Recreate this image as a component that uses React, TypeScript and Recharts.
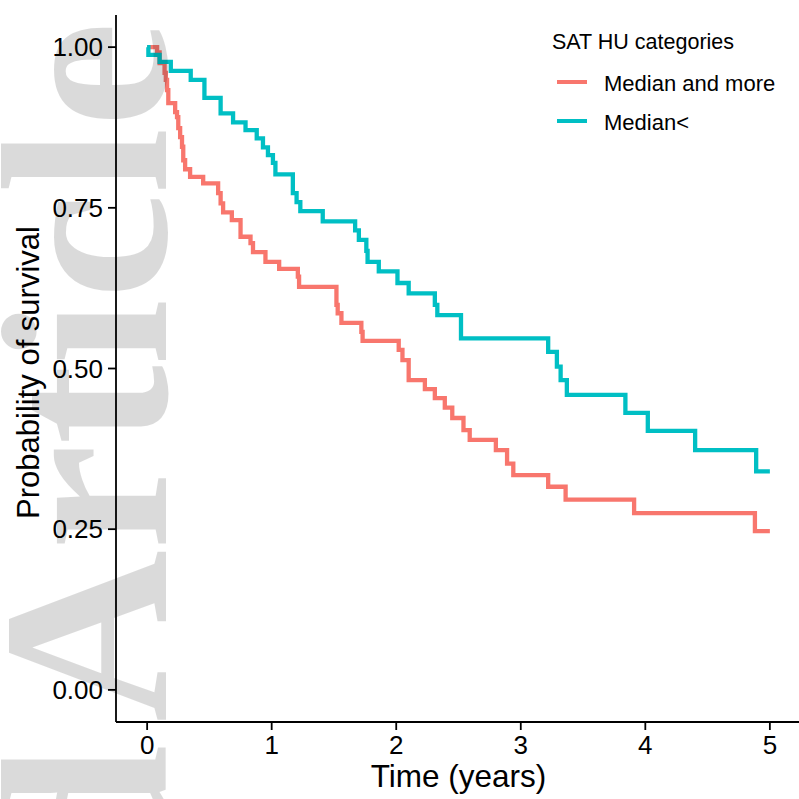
import React from "react";
import { LineChart, Line, XAxis, YAxis, Legend } from "recharts";

// Kaplan-Meier steps (time in years, survival probability)
const redTimes = [0, 0.08, 0.1, 0.14, 0.15, 0.16, 0.17, 0.225, 0.24, 0.25, 0.265, 0.28, 0.29, 0.305, 0.345, 0.45, 0.57, 0.59, 0.61, 0.68, 0.75, 0.83, 0.85, 0.95, 1.06, 1.21, 1.22, 1.52, 1.53, 1.56, 1.72, 1.73, 2.02, 2.05, 2.1, 2.23, 2.31, 2.39, 2.45, 2.54, 2.59, 2.8, 2.89, 2.94, 3.22, 3.36, 3.91, 4.88, 5.0];
const redSurv = [1.0, 0.992, 0.975, 0.96, 0.949, 0.933, 0.913, 0.899, 0.891, 0.874, 0.86, 0.845, 0.824, 0.81, 0.798, 0.788, 0.773, 0.757, 0.743, 0.731, 0.705, 0.695, 0.681, 0.666, 0.655, 0.643, 0.627, 0.599, 0.586, 0.571, 0.557, 0.543, 0.529, 0.513, 0.482, 0.468, 0.454, 0.439, 0.423, 0.404, 0.389, 0.373, 0.352, 0.334, 0.316, 0.296, 0.275, 0.247, 0.247];

const tealTimes = [0, 0.01, 0.1, 0.19, 0.35, 0.46, 0.59, 0.69, 0.79, 0.88, 0.93, 0.97, 1.01, 1.03, 1.17, 1.2, 1.23, 1.41, 1.67, 1.7, 1.76, 1.77, 1.86, 2.01, 2.1, 2.31, 2.33, 2.52, 3.22, 3.29, 3.32, 3.37, 3.84, 4.02, 4.4, 4.89, 5.0];
const tealSurv = [1.0, 0.988, 0.977, 0.963, 0.949, 0.921, 0.897, 0.883, 0.871, 0.858, 0.844, 0.832, 0.82, 0.802, 0.773, 0.759, 0.745, 0.729, 0.715, 0.7, 0.683, 0.666, 0.651, 0.633, 0.617, 0.599, 0.583, 0.547, 0.526, 0.503, 0.482, 0.459, 0.431, 0.403, 0.373, 0.34, 0.34];

const xTicks = [0, 1, 2, 3, 4, 5];
const yTicks = [0, 0.25, 0.5, 0.75, 1];

const seriesNames = ["Median and more", "Median<"];
const seriesColors = ["#F8766D", "#00BFC4"];

const redData = redTimes.map((t, i) => ({ t, s: redSurv[i] }));
const tealData = tealTimes.map((t, i) => ({ t, s: tealSurv[i] }));

const sans = "'Liberation Sans', Arial, sans-serif";

const XTitle = (props: any) => {
    const vb = props.viewBox;
    return (
        <text x={vb.x + vb.width / 2} y={787} textAnchor="middle" fontFamily={sans} fontSize={31.5} fill="#000">
            Time (years)
        </text>
    );
};

const YTitle = (props: any) => {
    const vb = props.viewBox;
    const cy = vb.y + vb.height / 2 + 4;
    return (
        <text x={39} y={cy} transform={`rotate(-90, 39, ${cy})`} textAnchor="middle" fontFamily={sans} fontSize={31} fill="#000">
            Probability of survival
        </text>
    );
};

const renderLegend = () => (
    <svg width={250} height={130} style={{ display: "block" }}>
        <text x={4} y={28.6} fontFamily={sans} fontSize={21.5} fill="#000">SAT HU categories</text>
        {seriesNames.map((name, i) => (
            <g key={name}>
                <line x1={9} x2={39} y1={62 + i * 39} y2={62 + i * 39} stroke={seriesColors[i]} strokeWidth={4} />
                <text x={56} y={71.4 + i * 39} fontFamily={sans} fontSize={22} fill="#000">{name}</text>
            </g>
        ))}
    </svg>
);

export default function App() {
    return (
        <div style={{ position: "absolute", left: 0, top: 0, width: 799, height: 799, overflow: "hidden", background: "#fff" }}>
            <LineChart width={801} height={799} margin={{ top: 15, right: 0, bottom: 0, left: 0 }}>
                <XAxis
                    type="number"
                    dataKey="t"
                    domain={[-0.25, 5.25]}
                    ticks={xTicks}
                    allowDataOverflow
                    height={77}
                    tickSize={8}
                    tickMargin={6}
                    axisLine={{ stroke: "#000", strokeWidth: 1.8 }}
                    tickLine={{ stroke: "#000", strokeWidth: 1.8 }}
                    tick={{ fill: "#000", fontSize: 26, fontFamily: sans }}
                    label={XTitle}
                />
                <YAxis
                    type="number"
                    domain={[-0.05, 1.05]}
                    ticks={yTicks}
                    allowDataOverflow
                    width={116}
                    tickSize={8}
                    tickMargin={5}
                    tickFormatter={(v: number) => v.toFixed(2)}
                    axisLine={{ stroke: "#000", strokeWidth: 1.8 }}
                    tickLine={{ stroke: "#000", strokeWidth: 1.8 }}
                    tick={{ fill: "#000", fontSize: 26, fontFamily: sans }}
                    label={YTitle}
                />
                <Legend
                    layout="vertical"
                    align="center"
                    verticalAlign="middle"
                    wrapperStyle={{ top: 20, left: 548, width: 250, height: 130 }}
                    content={renderLegend}
                />
                <Line data={redData} dataKey="s" name={seriesNames[0]} type="stepAfter" stroke={seriesColors[0]} strokeWidth={4.3} dot={false} activeDot={false} isAnimationActive={false} />
                <Line data={tealData} dataKey="s" name={seriesNames[1]} type="stepAfter" stroke={seriesColors[1]} strokeWidth={4.3} dot={false} activeDot={false} isAnimationActive={false} />
            </LineChart>
            {/* watermark sits over the plot, like in the source image */}
            <svg width={799} height={799} style={{ position: "absolute", left: 0, top: 0, pointerEvents: "none" }}>
                <g fontFamily="'Liberation Serif', 'Times New Roman', serif" fontWeight="bold" fontSize={238} fill="#000" fillOpacity={0.145}>
                    <text transform="translate(166,722) rotate(-90)">Article</text>
                    <text transform="translate(166,745) rotate(-90)" textAnchor="end">Accepted</text>
                </g>
            </svg>
        </div>
    );
}
